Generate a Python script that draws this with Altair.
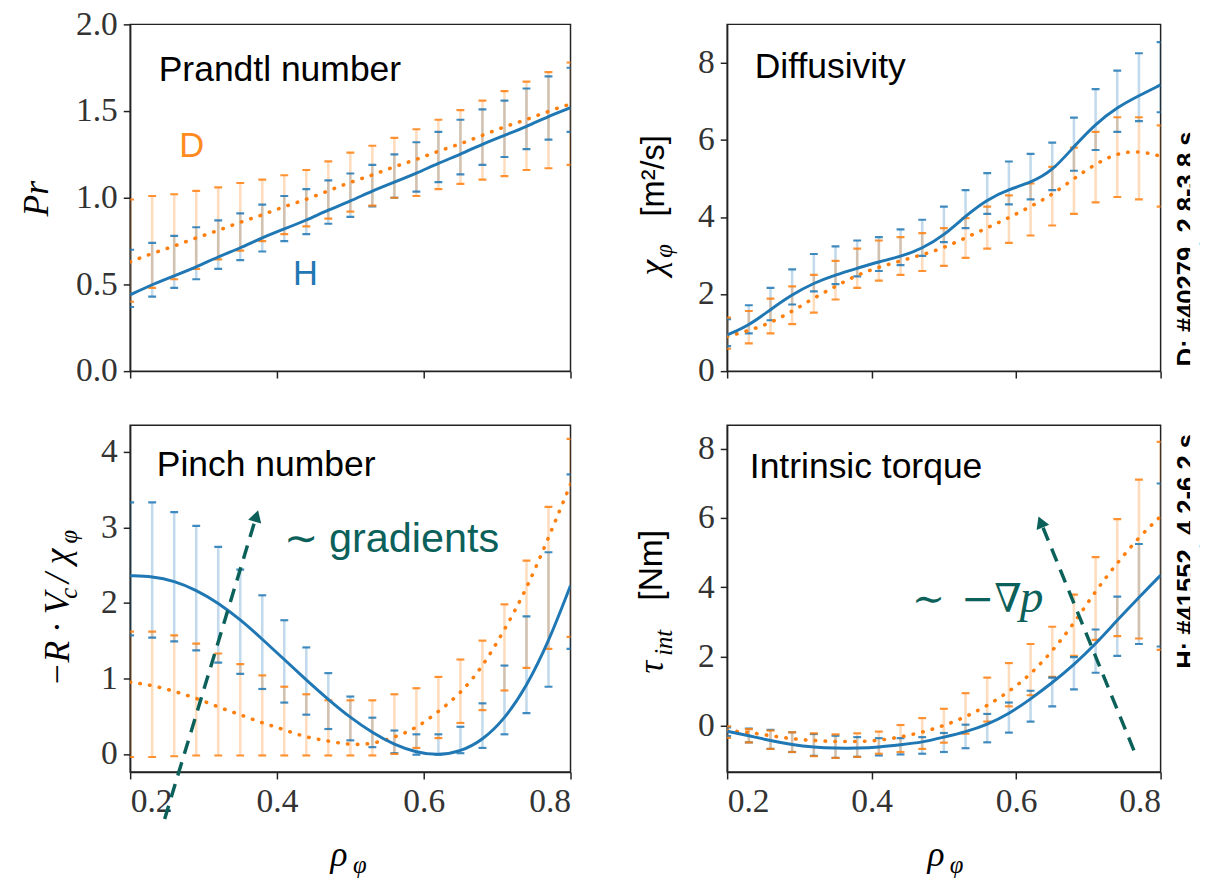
import altair as alt
import pandas as pd

# ---------------- data ----------------
X = [0.20, 0.23, 0.26, 0.29, 0.32, 0.35, 0.38, 0.41, 0.44, 0.47, 0.50,
     0.53, 0.56, 0.59, 0.62, 0.65, 0.68, 0.71, 0.74, 0.77, 0.80]

# Prandtl number
pr_h_line = [0.44, 0.50, 0.55, 0.60, 0.66, 0.71, 0.77, 0.82, 0.87, 0.93, 0.98,
             1.04, 1.09, 1.14, 1.20, 1.25, 1.31, 1.36, 1.41, 1.47, 1.52]
pr_h_hi = [0.70, 0.74, 0.78, 0.83, 0.87, 0.91, 0.96, 1.01, 1.05, 1.10, 1.14,
           1.19, 1.25, 1.32, 1.38, 1.45, 1.51, 1.56, 1.63, 1.70, 1.75]
pr_h_lo = [0.37, 0.43, 0.48, 0.53, 0.59, 0.64, 0.69, 0.75, 0.79, 0.85, 0.89,
           0.95, 1.00, 1.035, 1.09, 1.135, 1.19, 1.235, 1.28, 1.335, 1.38]
pr_d_line = [0.63, 0.68, 0.72, 0.77, 0.81, 0.86, 0.90, 0.95, 0.99, 1.04, 1.09,
             1.13, 1.18, 1.22, 1.27, 1.31, 1.36, 1.41, 1.45, 1.50, 1.54]
pr_d_hi = [0.99, 1.01, 1.02, 1.04, 1.06, 1.085, 1.105, 1.13, 1.16, 1.21, 1.26,
           1.30, 1.345, 1.395, 1.45, 1.505, 1.56, 1.615, 1.67, 1.725, 1.78]
pr_d_lo = [0.40, 0.48, 0.53, 0.59, 0.645, 0.695, 0.75, 0.79, 0.835, 0.88, 0.92,
           0.955, 1.00, 1.01, 1.05, 1.08, 1.105, 1.125, 1.16, 1.17, 1.19]

# Diffusivity
chi_h_line = [0.94, 1.18, 1.60, 1.99, 2.29, 2.50, 2.67, 2.84, 2.97, 3.18, 3.52,
              4.03, 4.46, 4.72, 4.89, 5.19, 5.83, 6.42, 6.85, 7.15, 7.43]
chi_h_hi = [1.35, 1.71, 2.16, 2.64, 3.04, 3.24, 3.39, 3.48, 3.68, 3.93, 4.27,
            4.70, 5.14, 5.44, 5.64, 5.93, 6.58, 7.32, 7.80, 8.25, 8.54]
chi_h_lo = [0.65, 0.98, 1.32, 1.73, 2.07, 2.26, 2.46, 2.60, 2.75, 2.99, 3.35,
            3.71, 4.08, 4.33, 4.46, 4.70, 5.20, 5.74, 6.21, 6.49, 6.72]
chi_d_line = [0.90, 1.05, 1.25, 1.55, 1.90, 2.20, 2.50, 2.70, 2.86, 3.02, 3.20,
              3.46, 3.72, 3.98, 4.27, 4.58, 5.00, 5.38, 5.66, 5.72, 5.58]
chi_d_hi = [1.39, 1.56, 1.88, 2.20, 2.50, 2.86, 3.18, 3.39, 3.48, 3.58, 3.71,
            3.97, 4.27, 4.56, 4.87, 5.30, 5.80, 6.21, 6.59, 6.59, 6.38]
chi_d_lo = [0.58, 0.72, 0.98, 1.22, 1.52, 1.86, 2.16, 2.35, 2.50, 2.60, 2.73,
            2.94, 3.18, 3.33, 3.52, 3.78, 4.08, 4.38, 4.52, 4.46, 4.27]

# Pinch number
pn_h_line = [2.36, 2.35, 2.29, 2.17, 2.00, 1.78, 1.52, 1.25, 0.98, 0.72, 0.48,
             0.28, 0.12, 0.02, -0.02, 0.03, 0.18, 0.46, 0.89, 1.48, 2.23]
pn_h_hi = [3.33, 3.33, 3.20, 3.02, 2.74, 2.44, 2.10, 1.77, 1.41, 1.07, 0.76,
           0.48, 0.31, 0.26, 0.26, 0.36, 0.67, 1.17, 1.82, 2.67, 3.70]
pn_h_lo = [1.57, 1.54, 1.49, 1.37, 1.21, 1.06, 0.86, 0.68, 0.52, 0.33, 0.18,
           0.09, 0.01, -0.01, -0.01, 0.01, 0.08, 0.26, 0.54, 0.89, 1.39]
pn_d_line = [0.95, 0.91, 0.83, 0.74, 0.62, 0.52, 0.41, 0.32, 0.22, 0.17, 0.12,
             0.13, 0.22, 0.34, 0.56, 0.80, 1.15, 1.64, 2.18, 2.86, 3.57]
pn_d_hi = [1.62, 1.62, 1.57, 1.46, 1.33, 1.19, 1.04, 0.89, 0.79, 0.71, 0.71,
           0.71, 0.79, 0.87, 1.02, 1.25, 1.50, 1.98, 2.56, 3.27, 4.17]
pn_d_lo = [-0.04, -0.04, -0.03, -0.02, -0.02, -0.02, -0.02, -0.02, -0.02, -0.02, -0.02,
           -0.02, 0.00, 0.08, 0.21, 0.41, 0.58, 0.84, 1.14, 1.39, 1.55]

# Intrinsic torque
tq_h_line = [-0.16, -0.29, -0.43, -0.55, -0.62, -0.65, -0.65, -0.62, -0.55, -0.48, -0.33,
             -0.18, 0.03, 0.34, 0.77, 1.24, 1.76, 2.36, 3.05, 3.71, 4.35]
tq_h_hi = [-0.05, -0.08, -0.12, -0.19, -0.24, -0.29, -0.33, -0.36, -0.36, -0.33, -0.21,
           0.03, 0.34, 0.67, 1.01, 1.39, 1.98, 2.78, 3.73, 5.25, 7.00]
tq_h_lo = [-0.30, -0.48, -0.67, -0.76, -0.87, -0.93, -0.90, -0.86, -0.83, -0.81, -0.76,
           -0.65, -0.48, -0.20, 0.12, 0.56, 1.05, 1.53, 2.02, 2.36, 2.29]
tq_d_line = [-0.14, -0.19, -0.29, -0.38, -0.43, -0.46, -0.46, -0.43, -0.33, -0.19, 0.00,
             0.25, 0.58, 0.98, 1.48, 2.15, 2.95, 3.90, 4.70, 5.45, 6.05]
tq_d_hi = [-0.02, -0.10, -0.14, -0.19, -0.22, -0.25, -0.22, -0.17, 0.02, 0.22, 0.49,
           0.94, 1.39, 1.81, 2.36, 2.86, 3.79, 4.87, 5.97, 7.11, 8.20]
tq_d_lo = [-0.35, -0.48, -0.67, -0.76, -0.88, -0.93, -0.90, -0.81, -0.76, -0.67, -0.49,
           -0.23, 0.12, 0.56, 0.88, 1.41, 2.02, 2.48, 2.59, 2.52, 2.19]

X_TICKS = [0.2, 0.4, 0.6, 0.8]

# annotation arrows: tail (x, y) -> head (x2, y2)
arrow_pn = {"x": [0.247], "y": [-0.86], "x2": [0.372], "y2": [3.15]}
arrow_tq = {"x": [0.763], "y": [-0.71], "x2": [0.634], "y2": [5.89]}

# truncated side notes at the right edge of the figure
side_notes = ["D: #40279, 2.8-3.8 s", "H: #41552, 4.2-6.2 s"]

BLUE = "#1f77b4"
ORANGE = "#ff7f0e"
TEAL = "#0b615a"
SERIF = "Liberation Serif"
SANS = "Liberation Sans"

W_L, W_R, H_P = 447, 440, 352
NOTE_X = 467      # side-note centre, px from the right column's plot left edge


def txt(df_text, **kw):
    return alt.Chart(pd.DataFrame({"t": [df_text]})).mark_text(**kw)


def panel(h_line, h_lo, h_hi, d_line, d_lo, d_hi, ydom, yticks, yfmt, bottom):
    xs = alt.Scale(domain=[0.2, 0.8], nice=False, zero=False)
    ys = alt.Scale(domain=ydom, nice=False, zero=False)
    xax = alt.Axis(values=X_TICKS, format=".1f", labels=bottom, title=None,
                   labelFontSize=34, labelPadding=6)
    yax = alt.Axis(values=yticks, format=yfmt, title=None, labelFontSize=34, labelPadding=6)
    err = pd.DataFrame({"x": X * 2, "lo": h_lo + d_lo, "hi": h_hi + d_hi,
                        "s": ["H"] * len(X) + ["D"] * len(X)})
    col = alt.Color("s:N", scale=alt.Scale(domain=["H", "D"], range=[BLUE, ORANGE]), legend=None)
    bars = alt.Chart(err).mark_rule(strokeWidth=2.6, opacity=0.27, clip=True).encode(
        x=alt.X("x:Q", scale=xs, axis=xax),
        y=alt.Y("lo:Q", scale=ys, axis=yax),
        y2="hi:Q", color=col)
    cap_lo = alt.Chart(err).mark_tick(orient="horizontal", size=8, thickness=2.2,
                                      opacity=0.85, clip=True).encode(
        x=alt.X("x:Q", scale=xs), y=alt.Y("lo:Q", scale=ys), color=col)
    cap_hi = alt.Chart(err).mark_tick(orient="horizontal", size=8, thickness=2.2,
                                      opacity=0.85, clip=True).encode(
        x=alt.X("x:Q", scale=xs), y=alt.Y("hi:Q", scale=ys), color=col)
    line_h = alt.Chart(pd.DataFrame({"x": X, "v": h_line})).mark_line(
        color=BLUE, strokeWidth=3, interpolate="basis", clip=True).encode(
        x=alt.X("x:Q", scale=xs), y=alt.Y("v:Q", scale=ys))
    line_d = alt.Chart(pd.DataFrame({"x": X, "v": d_line})).mark_line(
        color=ORANGE, strokeWidth=3.6, strokeDash=[0.5, 9.5], strokeCap="round",
        interpolate="basis", clip=True).encode(
        x=alt.X("x:Q", scale=xs), y=alt.Y("v:Q", scale=ys))
    layers = [bars, cap_lo, cap_hi, line_d, line_h]
    return layers, xs, ys


def xtitle():
    rho = txt("ρ", font=SERIF, fontStyle="italic", fontSize=36, color="black",
              align="center", baseline="middle").encode(
        x=alt.value(212), y=alt.value(436), text="t:N")
    phi = txt("φ", font=SERIF, fontStyle="italic", fontSize=25, color="black",
              align="center", baseline="middle").encode(
        x=alt.value(233), y=alt.value(446), text="t:N")
    return [rho, phi]


def arrow(d, xs, ys, angle):
    df = pd.DataFrame(d)
    line = alt.Chart(df).mark_rule(color=TEAL, strokeWidth=3.5, strokeDash=[14, 9],
                                   clip=False).encode(
        x=alt.X("x:Q", scale=xs), y=alt.Y("y:Q", scale=ys), x2="x2:Q", y2="y2:Q")
    head = alt.Chart(df).mark_point(shape="triangle-up", filled=True, size=190, opacity=1,
                                    color=TEAL, angle=angle, clip=False).encode(
        x=alt.X("x2:Q", scale=xs), y=alt.Y("y2:Q", scale=ys))
    return [line, head]


def anno(text, x, y, xs, ys, **kw):
    df = pd.DataFrame({"t": [text], "x": [x], "y": [y]})
    return alt.Chart(df).mark_text(**kw).encode(
        x=alt.X("x:Q", scale=xs), y=alt.Y("y:Q", scale=ys), text="t:N")


def side_note(text, yc):
    note = txt(text, font=SANS, fontSize=26, fontWeight="bold", color="black", angle=270,
               align="center", baseline="middle").encode(
        x=alt.value(NOTE_X), y=alt.value(yc), text="t:N")
    cover = alt.Chart(pd.DataFrame({"a": [0]})).mark_rect(color="white").encode(
        x=alt.value(NOTE_X + 3), x2=alt.value(NOTE_X + 12), y=alt.value(0), y2=alt.value(H_P))
    return [note, cover]


# ---------------- panel 1: Prandtl ----------------
L1, xs1, ys1 = panel(pr_h_line, pr_h_lo, pr_h_hi, pr_d_line, pr_d_lo, pr_d_hi,
                     [0, 2.0], [0, 0.5, 1.0, 1.5, 2.0], ".1f", False)
L1 += [
    txt("Prandtl number", font=SANS, fontSize=36, color="black", align="left",
        baseline="alphabetic").encode(x=alt.value(29), y=alt.value(57), text="t:N"),
    anno("D", 0.284, 1.30, xs1, ys1, font=SANS, fontSize=35, color="#ff8a1e",
         align="center", baseline="middle"),
    anno("H", 0.439, 0.558, xs1, ys1, font=SANS, fontSize=35, color="#1f77b4",
         align="center", baseline="middle"),
    txt("Pr", font=SERIF, fontStyle="italic", fontSize=36, color="black", angle=270,
        align="center", baseline="middle").encode(x=alt.value(-94), y=alt.value(177), text="t:N"),
]
p1 = alt.layer(*L1).properties(width=W_L, height=H_P)

# ---------------- panel 2: Diffusivity ----------------
L2, xs2, ys2 = panel(chi_h_line, chi_h_lo, chi_h_hi, chi_d_line, chi_d_lo, chi_d_hi,
                     [0, 9.0], [0, 2, 4, 6, 8], "d", False)
L2 += [
    txt("Diffusivity", font=SANS, fontSize=36, color="black", align="left",
        baseline="alphabetic").encode(x=alt.value(28), y=alt.value(54), text="t:N"),
    txt("χ", font=SERIF, fontStyle="italic", fontSize=36, color="black", angle=270,
        align="left", baseline="middle").encode(x=alt.value(-75), y=alt.value(255), text="t:N"),
    txt("φ", font=SERIF, fontStyle="italic", fontSize=25, color="black", angle=270,
        align="left", baseline="middle").encode(x=alt.value(-64), y=alt.value(237), text="t:N"),
    txt("[m²/s]", font=SANS, fontSize=33, color="black", angle=270,
        align="left", baseline="middle").encode(x=alt.value(-74), y=alt.value(195), text="t:N"),
]
L2 += side_note(side_notes[0], 228)
p2 = alt.layer(*L2).properties(width=W_R, height=H_P)

# ---------------- panel 3: Pinch number ----------------
L3, xs3, ys3 = panel(pn_h_line, pn_h_lo, pn_h_hi, pn_d_line, pn_d_lo, pn_d_hi,
                     [-0.24, 4.35], [0, 1, 2, 3, 4], "d", True)
L3 += arrow(arrow_pn, xs3, ys3, 16.6)
L3 += [
    txt("Pinch number", font=SANS, fontSize=36, color="black", align="left",
        baseline="alphabetic").encode(x=alt.value(27), y=alt.value(51), text="t:N"),
    anno("∼ gradients", 0.409, 2.67, xs3, ys3, font=SANS, fontSize=42, color=TEAL,
         align="left", baseline="alphabetic"),
    txt("−R · V", font=SERIF, fontStyle="italic", fontSize=36, color="black", angle=270,
        align="left", baseline="middle").encode(x=alt.value(-73), y=alt.value(265), text="t:N"),
    txt("c", font=SERIF, fontStyle="italic", fontSize=25, color="black", angle=270,
        align="left", baseline="middle").encode(x=alt.value(-62), y=alt.value(176), text="t:N"),
    txt("/", font=SERIF, fontStyle="italic", fontSize=36, color="black", angle=270,
        align="left", baseline="middle").encode(x=alt.value(-73), y=alt.value(160), text="t:N"),
    txt("χ", font=SERIF, fontStyle="italic", fontSize=36, color="black", angle=270,
        align="left", baseline="middle").encode(x=alt.value(-73), y=alt.value(141), text="t:N"),
    txt("φ", font=SERIF, fontStyle="italic", fontSize=25, color="black", angle=270,
        align="left", baseline="middle").encode(x=alt.value(-62), y=alt.value(120), text="t:N"),
]
L3 += xtitle()
p3 = alt.layer(*L3).properties(width=W_L, height=H_P)

# ---------------- panel 4: Intrinsic torque ----------------
L4, xs4, ys4 = panel(tq_h_line, tq_h_lo, tq_h_hi, tq_d_line, tq_d_lo, tq_d_hi,
                     [-1.34, 8.68], [0, 2, 4, 6, 8], "d", True)
L4 += arrow(arrow_tq, xs4, ys4, 337.9)
L4 += [
    txt("Intrinsic torque", font=SANS, fontSize=36, color="black", align="left",
        baseline="alphabetic").encode(x=alt.value(23), y=alt.value(53), text="t:N"),
    anno("∼", 0.456, 3.28, xs4, ys4, font="DejaVu Serif", fontSize=40, color=TEAL,
         align="left", baseline="alphabetic"),
    anno("−∇", 0.524, 3.28, xs4, ys4, font="DejaVu Serif", fontSize=40, color=TEAL,
         align="left", baseline="alphabetic"),
    anno("p", 0.605, 3.28, xs4, ys4, font=SERIF, fontStyle="italic", fontSize=48, color=TEAL,
         align="left", baseline="alphabetic"),
    txt("τ", font=SERIF, fontStyle="italic", fontSize=36, color="black", angle=270,
        align="left", baseline="middle").encode(x=alt.value(-76), y=alt.value(252), text="t:N"),
    txt("int", font=SERIF, fontStyle="italic", fontSize=25, color="black", angle=270,
        align="left", baseline="middle").encode(x=alt.value(-64), y=alt.value(234), text="t:N"),
    txt("[Nm]", font=SANS, fontSize=34, color="black", angle=270,
        align="left", baseline="middle").encode(x=alt.value(-76), y=alt.value(178), text="t:N"),
]
L4 += side_note(side_notes[1], 128)
L4 += xtitle()
p4 = alt.layer(*L4).properties(width=W_R, height=H_P)

chart = alt.concat(p1, p2, p3, p4, columns=2, spacing={"row": 36, "column": 62}).properties(
    align="each",
    padding={"left": 11, "top": -8, "right": 0, "bottom": 0},
).configure_view(
    stroke="#222222", strokeWidth=1.5
).configure_axis(
    grid=False,
    domainColor="#222222", domainWidth=1.5,
    tickColor="#222222", tickWidth=1.5, tickSize=7,
    labelFont=SERIF, labelFontSize=34, labelColor="#333333", labelPadding=6,
)

chart.save("out.html", embed_options={"renderer": "svg", "actions": False})
